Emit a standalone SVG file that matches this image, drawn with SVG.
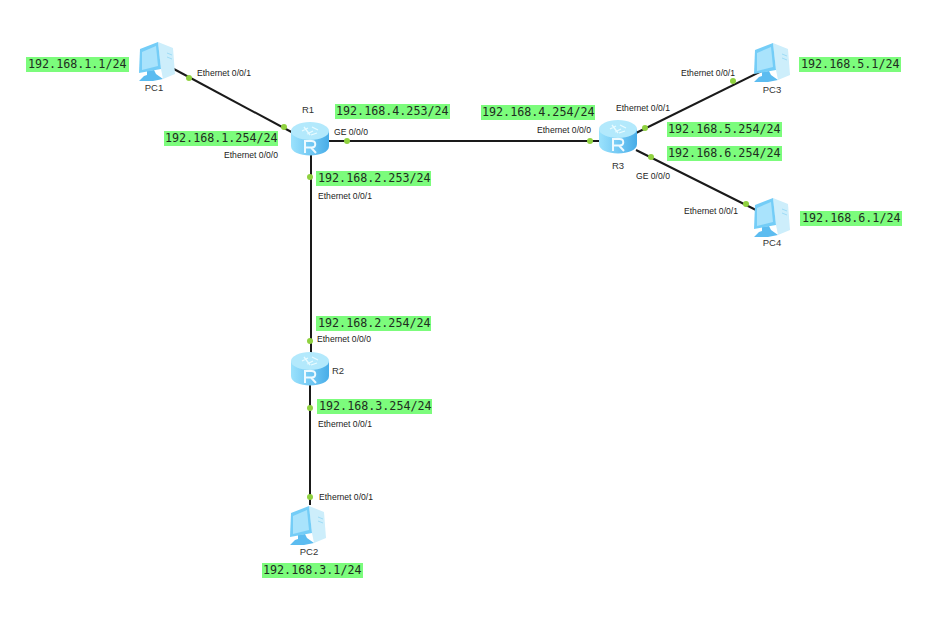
<svg xmlns="http://www.w3.org/2000/svg" width="926" height="618" viewBox="0 0 926 618">
<style>
.ip{font:11.7px "DejaVu Sans Mono","Liberation Mono",monospace;fill:#1f2d1f}
.bg{fill:#7cfc7c}
.pt{font:8.6px "Liberation Sans",Arial,sans-serif;fill:#222}
.nm{font:9.5px "Liberation Sans",Arial,sans-serif;fill:#333}
.ln{stroke:#1a1a1a;stroke-width:2;fill:none}
.dot{fill:#8fd13f}
</style>
<defs>
<linearGradient id="rb" x1="0" x2="1" y1="0" y2="0"><stop offset="0" stop-color="#9be2fc"/><stop offset="0.5" stop-color="#74c9f4"/><stop offset="1" stop-color="#48ade8"/></linearGradient>
<g id="router">
<path d="M-19 -10V5C-19 11 -10 14.500 0 14.500S19 11 19 5V-10Z" fill="url(#rb)"/>
<ellipse cx="0" cy="-10" rx="19" ry="9" fill="#b3e9fc"/>
<path d="M-8 -10L-2 -13M-3 -7L3 -10M2 -14L8 -11M-6 -14L0 -6M1 -6L7 -8" stroke="#e8fbff" stroke-width="1.300" fill="none"/>
<path d="M-5 12V0H1.500C6.500 0 6.500 6.500 1.500 6.500H-5M1 6.500L6 12" stroke="#eefaff" stroke-width="2" fill="none"/>
</g>
<g id="pc">
<path d="M5 -20L20 -14L22 12L10 17L8 7Z" fill="#cdeefb"/>
<path d="M14 -9L19 -7M14 -5L19 -3" stroke="#9fdcf6" stroke-width="1" fill="none"/>
<path d="M-6 9L1 8L3 12L10 17L0 19L-14 19L-9 14L-6 13Z" fill="#5cbcf0"/>
<path d="M-13 -13L5 -20L8 7L-14 11Z" fill="#74cdf7"/>
<path d="M-11 -10L3 -16L5 4L-11 8Z" fill="#a9e3fc"/>
</g>
</defs>
<g id="connectors">
<path class="ln" d="M172 68L297 135"/>
<path class="ln" d="M328 141H600"/>
<path class="ln" d="M311 154V355"/>
<path class="ln" d="M310 385V505"/>
<path class="ln" d="M636 133L770 67"/>
<path class="ln" d="M636 150L760 212"/>
<g class="dot">
<circle cx="189" cy="78" r="3"/><circle cx="284" cy="127" r="3"/>
<circle cx="347" cy="141" r="3"/><circle cx="590" cy="141" r="3"/>
<circle cx="310" cy="177" r="3"/><circle cx="310" cy="341" r="3"/>
<circle cx="310" cy="408" r="3"/><circle cx="310" cy="497" r="3"/>
<circle cx="645" cy="128" r="3"/><circle cx="733" cy="81" r="3"/>
<circle cx="651" cy="157" r="3"/><circle cx="746" cy="204" r="3"/>
</g>
</g>
<g id="PC1"><use href="#pc" x="153" y="62"/><text class="nm" x="154" y="91" text-anchor="middle">PC1</text>
<rect class="bg" x="26" y="57" width="103" height="15"/><text class="ip" x="28" y="68">192.168.1.1/24</text>
<text class="pt" x="197" y="76">Ethernet 0/0/1</text></g>
<g id="PC2"><use href="#pc" x="304" y="526"/><text class="nm" x="309" y="555" text-anchor="middle">PC2</text>
<rect class="bg" x="262" y="563" width="101" height="15"/><text class="ip" x="263" y="574">192.168.3.1/24</text>
<text class="pt" x="319" y="500">Ethernet 0/0/1</text></g>
<g id="PC3"><use href="#pc" x="768" y="63"/><text class="nm" x="772" y="93" text-anchor="middle">PC3</text>
<rect class="bg" x="799" y="57" width="102" height="15"/><text class="ip" x="801" y="68">192.168.5.1/24</text>
<text class="pt" x="681" y="76">Ethernet 0/0/1</text></g>
<g id="PC4"><use href="#pc" x="768" y="218"/><text class="nm" x="772" y="246" text-anchor="middle">PC4</text>
<rect class="bg" x="800" y="211" width="102" height="15"/><text class="ip" x="802" y="222">192.168.6.1/24</text>
<text class="pt" x="684" y="214">Ethernet 0/0/1</text></g>
<g id="R1"><use href="#router" x="310" y="141"/><text class="nm" x="302" y="113">R1</text>
<rect class="bg" x="335" y="104" width="115" height="15"/><text class="ip" x="336" y="115">192.168.4.253/24</text>
<text class="pt" x="334" y="135">GE 0/0/0</text>
<rect class="bg" x="164" y="131" width="114" height="15"/><text class="ip" x="165" y="142">192.168.1.254/24</text>
<text class="pt" x="224" y="158">Ethernet 0/0/0</text>
<rect class="bg" x="316" y="171" width="115" height="15"/><text class="ip" x="318" y="182">192.168.2.253/24</text>
<text class="pt" x="318" y="199">Ethernet 0/0/1</text></g>
<g id="R2"><use href="#router" x="310" y="371"/><text class="nm" x="332" y="374">R2</text>
<rect class="bg" x="316" y="316" width="115" height="15"/><text class="ip" x="318" y="327">192.168.2.254/24</text>
<text class="pt" x="317" y="342">Ethernet 0/0/0</text>
<rect class="bg" x="317" y="399" width="115" height="15"/><text class="ip" x="319" y="410">192.168.3.254/24</text>
<text class="pt" x="318" y="427">Ethernet 0/0/1</text></g>
<g id="R3"><use href="#router" x="618" y="139"/><text class="nm" x="612" y="169">R3</text>
<rect class="bg" x="481" y="105" width="114" height="15"/><text class="ip" x="482" y="116">192.168.4.254/24</text>
<text class="pt" x="537" y="133">Ethernet 0/0/0</text>
<text class="pt" x="616" y="111">Ethernet 0/0/1</text>
<rect class="bg" x="667" y="122" width="115" height="15"/><text class="ip" x="668" y="133">192.168.5.254/24</text>
<rect class="bg" x="667" y="146" width="115" height="15"/><text class="ip" x="668" y="157">192.168.6.254/24</text>
<text class="pt" x="636" y="179">GE 0/0/0</text></g>
</svg>
